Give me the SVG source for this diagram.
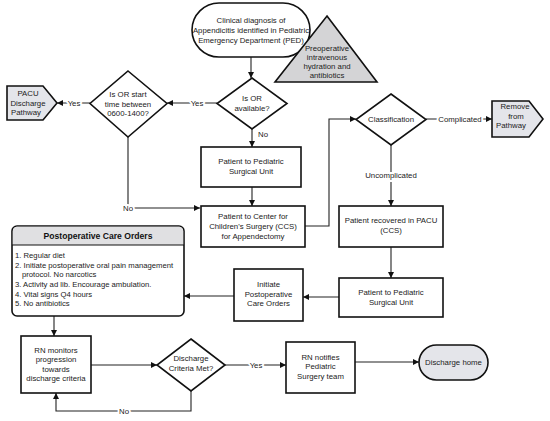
<svg xmlns="http://www.w3.org/2000/svg" width="550" height="421" viewBox="0 0 550 421">
<style>
.box{fill:#fff;stroke:#111;stroke-width:1.6}
.gray{fill:#e4e5ea;stroke:#111;stroke-width:1.6}
.tri{fill:#d4d4d6;stroke:#111;stroke-width:1.6}
.t{font-family:"Liberation Sans",Arial,sans-serif;font-size:7.8px;fill:#222;text-anchor:middle}
.l{font-family:"Liberation Sans",Arial,sans-serif;font-size:7.7px;fill:#222}
.h{font-family:"Liberation Sans",Arial,sans-serif;font-size:8.6px;font-weight:bold;fill:#111;text-anchor:middle}
.c{fill:none;stroke:#222;stroke-width:1.1}
.lab{font-family:"Liberation Sans",Arial,sans-serif;font-size:7.8px;fill:#222;text-anchor:middle;paint-order:stroke;stroke:#fff;stroke-width:4px;stroke-linejoin:round}
</style>
<defs>
<marker id="a" viewBox="0 0 10 10" refX="10" refY="5" markerWidth="7" markerHeight="6" markerUnits="userSpaceOnUse" orient="auto">
<path d="M0,0 L10,5 L0,10 z" fill="#111"/>
</marker>
</defs>
<rect width="550" height="421" fill="#fff"/>
<g id="connectors">
<path class="c" d="M251,57 V78" marker-end="url(#a)"/>
<path class="c" d="M217,103 H167" marker-end="url(#a)"/>
<path class="c" d="M90,103 H57" marker-end="url(#a)"/>
<path class="c" d="M128,137 V208 H200" marker-end="url(#a)"/>
<path class="c" d="M252,129 V147" marker-end="url(#a)"/>
<path class="c" d="M252,187 V206" marker-end="url(#a)"/>
<path class="c" d="M305,226 H329 V119 H356" marker-end="url(#a)"/>
<path class="c" d="M426,119 H492" marker-end="url(#a)"/>
<path class="c" d="M391,145 V206" marker-end="url(#a)"/>
<path class="c" d="M391,247 V278" marker-end="url(#a)"/>
<path class="c" d="M339,297 H303" marker-end="url(#a)"/>
<path class="c" d="M234,296 H184" marker-end="url(#a)"/>
<path class="c" d="M54,316 V336" marker-end="url(#a)"/>
<path class="c" d="M91,365 H157" marker-end="url(#a)"/>
<path class="c" d="M225,365 H286" marker-end="url(#a)"/>
<path class="c" d="M355,362 H419" marker-end="url(#a)"/>
<path class="c" d="M191,391 V411 H56 V393" marker-end="url(#a)"/>
<text class="lab" x="197" y="106">Yes</text>
<text class="lab" x="74" y="106">Yes</text>
<text class="lab" x="128" y="211">No</text>
<text class="t" x="263" y="137">No</text>
<text class="lab" x="460" y="122">Complicated</text>
<text class="lab" x="391" y="178">Uncomplicated</text>
<text class="lab" x="256" y="368">Yes</text>
<text class="lab" x="124" y="414">No</text>
</g>
<g id="start">
<rect class="box" x="192" y="3" width="118" height="54" rx="27"/>
<text class="t" x="251" y="23">Clinical diagnosis of</text>
<text class="t" x="251" y="33">Appendicitis identified in Pediatric</text>
<text class="t" x="251" y="43">Emergency Department (PED)</text>
</g>
<g id="preop">
<path class="tri" d="M327,16 L377,82 L275,82 Z"/>
<text class="t" x="327" y="51">Preoperative</text>
<text class="t" x="327" y="60">intravenous</text>
<text class="t" x="327" y="69">hydration and</text>
<text class="t" x="327" y="78">antibiotics</text>
</g>
<g id="or-available">
<path class="box" d="M252,78 L287,103.5 L252,129 L217,103.5 Z"/>
<text class="t" x="252" y="101">Is OR</text>
<text class="t" x="252" y="111">available?</text>
</g>
<g id="or-time">
<path class="box" d="M128,71 L167,103.5 L128,137 L90,103.5 Z"/>
<text class="t" x="128" y="97">Is OR start</text>
<text class="t" x="128" y="106.5">time between</text>
<text class="t" x="128" y="116">0600-1400?</text>
</g>
<g id="pacu-pathway">
<path class="gray" d="M7,86 H43 L57,103 L43,120 H7 Z"/>
<text class="t" x="28" y="96">PACU</text>
<text class="t" x="28" y="105.5">Discharge</text>
<text class="t" x="26" y="115">Pathway</text>
</g>
<g id="surgical-unit-1">
<rect class="box" x="201" y="147" width="100" height="40"/>
<text class="t" x="251" y="164">Patient to Pediatric</text>
<text class="t" x="251" y="174">Surgical Unit</text>
</g>
<g id="ccs">
<rect class="box" x="201" y="206" width="104" height="41"/>
<text class="t" x="253" y="219">Patient to Center for</text>
<text class="t" x="253" y="229">Children's Surgery (CCS)</text>
<text class="t" x="253" y="239">for Appendectomy</text>
</g>
<g id="classification">
<path class="box" d="M391,94 L426,119.5 L391,145 L356,119.5 Z"/>
<text class="t" x="391" y="122">Classification</text>
</g>
<g id="remove">
<path class="gray" d="M492,101 H529 L543,119 L529,137 H492 Z"/>
<text class="t" x="515" y="109">Remove</text>
<text class="t" x="516" y="118.5">from</text>
<text class="t" x="511" y="128">Pathway</text>
</g>
<g id="pacu-recovered">
<rect class="box" x="339" y="206" width="104" height="41"/>
<text class="t" x="391" y="223">Patient recovered in PACU</text>
<text class="t" x="391" y="233">(CCS)</text>
</g>
<g id="surgical-unit-2">
<rect class="box" x="339" y="278" width="104" height="39"/>
<text class="t" x="391" y="295">Patient to Pediatric</text>
<text class="t" x="391" y="305">Surgical Unit</text>
</g>
<g id="initiate">
<rect class="box" x="234" y="269" width="69" height="52"/>
<text class="t" x="268.5" y="287">Initiate</text>
<text class="t" x="268.5" y="296.5">Postoperative</text>
<text class="t" x="268.5" y="306">Care Orders</text>
</g>
<g id="care-orders">
<rect class="box" x="12" y="226" width="172" height="90" rx="5"/>
<path d="M12.8,245 V231 a4.2,4.2 0 0 1 4.2,-4.2 H179 a4.2,4.2 0 0 1 4.2,4.2 V245 Z" fill="#e0e0e2"/>
<line x1="12" y1="245" x2="184" y2="245" stroke="#111" stroke-width="1.2"/>
<text class="h" x="98" y="239">Postoperative Care Orders</text>
<text class="l" x="15" y="258">1. Regular diet</text>
<text class="l" x="15" y="268">2. Initiate postoperative oral pain management</text>
<text class="l" x="22" y="277">protocol. No narcotics</text>
<text class="l" x="15" y="287">3. Activity ad lib. Encourage ambulation.</text>
<text class="l" x="15" y="297">4. Vital signs Q4 hours</text>
<text class="l" x="15" y="306">5. No antibiotics</text>
</g>
<g id="rn-monitors">
<rect class="box" x="21" y="336" width="70" height="57"/>
<text class="t" x="56" y="353">RN monitors</text>
<text class="t" x="56" y="362">progression</text>
<text class="t" x="56" y="371.5">towards</text>
<text class="t" x="56" y="381">discharge criteria</text>
</g>
<g id="discharge-met">
<path class="box" d="M191,339 L225,365 L191,391 L157,365 Z"/>
<text class="t" x="191" y="361">Discharge</text>
<text class="t" x="191" y="371">Criteria Met?</text>
</g>
<g id="rn-notifies">
<rect class="box" x="286" y="342" width="69" height="51"/>
<text class="t" x="320.5" y="360">RN notifies</text>
<text class="t" x="320.5" y="369">Pediatric</text>
<text class="t" x="320.5" y="379">Surgery team</text>
</g>
<g id="discharge-home">
<rect class="gray" x="419" y="345" width="69" height="35" rx="17.5"/>
<text class="t" x="453.5" y="365">Discharge home</text>
</g>
</svg>
